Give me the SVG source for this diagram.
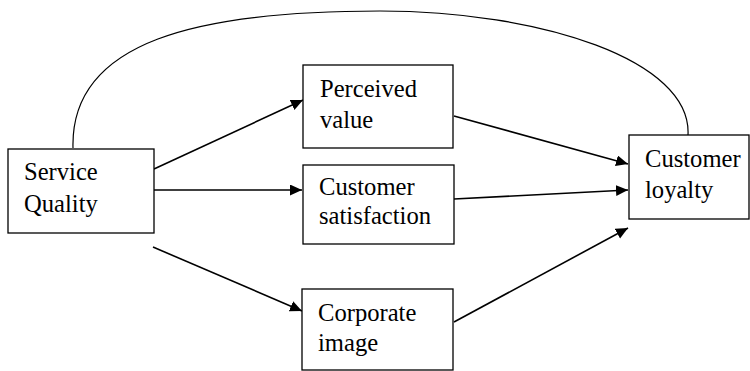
<svg xmlns="http://www.w3.org/2000/svg" width="750" height="371" viewBox="0 0 750 371">
<style>
.box{fill:#fff;stroke:#000;stroke-width:1.3}
.lbl{font-family:"Liberation Serif","Times New Roman",serif;font-size:24.6px;fill:#000}
.arr{stroke:#000;stroke-width:1.6;fill:none;marker-end:url(#ah)}
.arc{stroke:#000;stroke-width:1.2;fill:none}
</style>
<defs>
<marker id="ah" markerUnits="userSpaceOnUse" markerWidth="14" markerHeight="12" refX="12" refY="5.5" orient="auto">
<path d="M0,0 L12,5.5 L0,11 Z" fill="#000"/>
</marker>
</defs>
<rect width="750" height="371" fill="#fff"/>
<g id="connectors">
<path class="arc" d="M73,148 C70,40 200,11 380,11 C540,11 692,60 688,135"/>
<line class="arr" x1="154" y1="169" x2="303" y2="100"/>
<line class="arr" x1="154" y1="190" x2="302" y2="190"/>
<line class="arr" x1="153" y1="247" x2="302" y2="311"/>
<line class="arr" x1="454" y1="116" x2="628" y2="164"/>
<line class="arr" x1="454" y1="199" x2="628" y2="190"/>
<line class="arr" x1="454" y1="322" x2="628" y2="228"/>
</g>
<g id="service-quality">
<rect class="box" x="8" y="149" width="146" height="84"/>
<text class="lbl" x="24" y="180">Service</text>
<text class="lbl" x="24" y="212">Quality</text>
</g>
<g id="perceived-value">
<rect class="box" x="303" y="65" width="150" height="83"/>
<text class="lbl" x="320" y="97">Perceived</text>
<text class="lbl" x="320" y="128">value</text>
</g>
<g id="customer-satisfaction">
<rect class="box" x="303" y="165" width="151" height="79"/>
<text class="lbl" x="319" y="195">Customer</text>
<text class="lbl" x="319" y="224">satisfaction</text>
</g>
<g id="corporate-image">
<rect class="box" x="302" y="289" width="151" height="81"/>
<text class="lbl" x="318" y="321">Corporate</text>
<text class="lbl" x="318" y="351">image</text>
</g>
<g id="customer-loyalty">
<rect class="box" x="629" y="135" width="120" height="84"/>
<text class="lbl" x="645" y="167">Customer</text>
<text class="lbl" x="645" y="198">loyalty</text>
</g>
</svg>
